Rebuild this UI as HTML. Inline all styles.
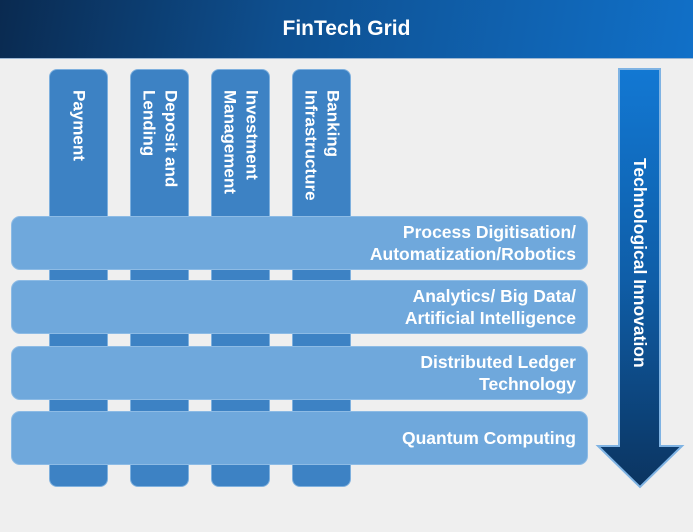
<!DOCTYPE html>
<html><head><meta charset="utf-8"><style>
body{margin:0;width:693px;height:532px;background:#efefef;position:relative;overflow:hidden;font-family:"Liberation Sans",Arial,sans-serif;font-weight:bold;color:#fff}
.hdr{position:absolute;left:0;top:0;width:693px;height:58px;background:linear-gradient(100deg,#0a2a50 0%,#0e4f8f 40%,#1170c8 100%);border-bottom:1px solid #9db7d3;text-align:center;line-height:58px;font-size:21px}
.col{position:absolute;top:69px;width:59px;height:418px;background:#3d82c4;border:1px solid #7eb0de;border-radius:8px;box-sizing:border-box}
.col span{position:absolute;top:20px;left:50%;transform:translateX(-50%);writing-mode:vertical-rl;font-size:17px;line-height:22px;white-space:nowrap}
.bar{position:absolute;left:11px;width:577px;height:54px;background:#6fa8dc;border:1px solid #8dbbe5;border-radius:9px;box-sizing:border-box;display:flex;align-items:center;justify-content:flex-end;text-align:right;padding-right:11px;font-size:17.5px;line-height:22px}
.arrowtxt{position:absolute;left:627px;top:158px;writing-mode:vertical-rl;font-size:17.5px;line-height:26px;width:26px;white-space:nowrap}
</style></head><body>
<div class="hdr">FinTech Grid</div>
<div class="col" style="left:49px"><span>Payment</span></div>
<div class="col" style="left:130px"><span>Deposit and<br>Lending</span></div>
<div class="col" style="left:211px"><span>Investment<br>Management</span></div>
<div class="col" style="left:292px"><span>Banking<br>Infrastructure</span></div>
<div class="bar" style="top:216px">Process Digitisation/<br>Automatization/Robotics</div>
<div class="bar" style="top:280px">Analytics/ Big Data/<br>Artificial Intelligence</div>
<div class="bar" style="top:346px">Distributed Ledger<br>Technology</div>
<div class="bar" style="top:411px">Quantum Computing</div>
<svg style="position:absolute;left:0;top:0" width="693" height="532">
<defs><linearGradient id="g" x1="0" y1="0" x2="0" y2="1"><stop offset="0" stop-color="#1278d3"/><stop offset="0.5" stop-color="#0f5ea8"/><stop offset="1" stop-color="#0b3460"/></linearGradient></defs>
<polygon points="619,69 660,69 660,446 682,446 640,487 598,446 619,446" fill="url(#g)" stroke="#7fb3e3" stroke-width="2"/>
</svg>
<div class="arrowtxt">Technological Innovation</div>
</body></html>
